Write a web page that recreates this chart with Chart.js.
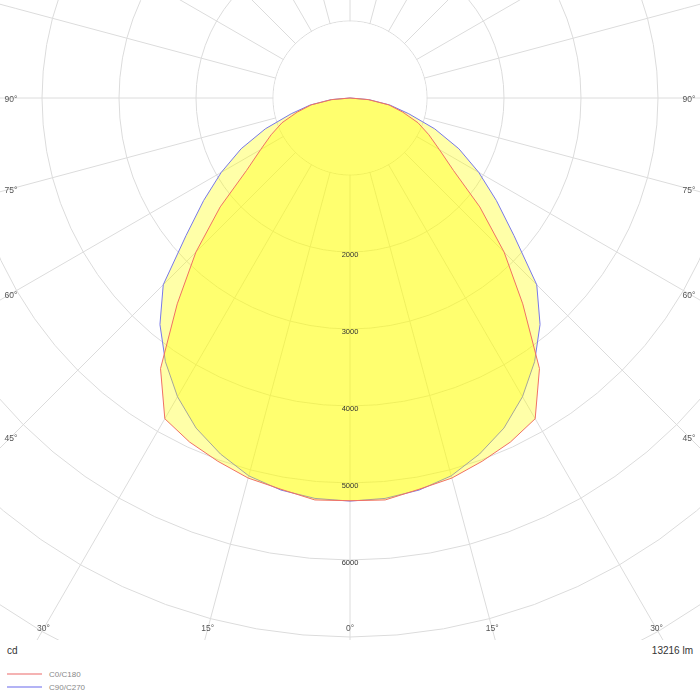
<!DOCTYPE html>
<html>
<head>
<meta charset="utf-8">
<script src="https://cdn.jsdelivr.net/npm/chart.js"></script>
<style>
  body { margin: 0; background: #fff; font-family: "Liberation Sans", Arial, sans-serif; }
  #wrap { position: absolute; left: 0; top: 0; width: 700px; height: 640px; overflow: hidden; }
  #diagram { position: absolute; left: -343px; top: -595px; }
  .txt { position: absolute; color: #333; font-size: 10px; line-height: 12px; white-space: nowrap; }
  .leg { position: absolute; left: 7px; width: 35px; height: 0; border-top: 2px solid; }
  .legtxt { position: absolute; left: 49px; color: #888; font-size: 8px; line-height: 10px; }
</style>
</head>
<body>
<div id="wrap"><canvas id="diagram" width="1386" height="1386"></canvas></div>
<div class="txt" style="left:7px; top:645px;">cd</div>
<div class="txt" style="right:7px; top:645px;">13216 lm</div>
<div class="leg" style="top:673px; border-color:#f5b3b3;"></div>
<div class="legtxt" style="top:670px;">C0/C180</div>
<div class="leg" style="top:686px; border-color:#b3b3f5;"></div>
<div class="legtxt" style="top:683px;">C90/C270</div>
<script>
// gamma angles, 0 = straight down, step 5
const gammas = [0, 5, 10, 15, 20, 25, 30, 35, 40, 45, 50, 55, 60, 65, 70, 75, 80, 85, 90,
  95, 100, 105, 110, 115, 120, 125, 130, 135, 140, 145, 150, 155, 160, 165, 170, 175, 180];

// luminous intensity, cd, per half plane
const c0 = [5230, 5240, 5160, 5110, 5020, 4930, 4810, 4290, 3490, 2830, 2200, 1640, 1340, 1130, 940, 710, 510, 240, 0,
  0, 0, 0, 0, 0, 0, 0, 0, 0, 0, 0, 0, 0, 0, 0, 0, 0, 0];
const c180 = [5230, 5240, 5160, 5110, 5020, 4930, 4810, 4290, 3490, 2830, 2200, 1640, 1340, 1130, 940, 710, 510, 240, 0,
  0, 0, 0, 0, 0, 0, 0, 0, 0, 0, 0, 0, 0, 0, 0, 0, 0, 0];
const c90 = [5235, 5220, 5170, 5080, 4920, 4730, 4480, 4180, 3840, 3430, 2780, 2320, 1930, 1560, 1170, 790, 525, 245, 0,
  0, 0, 0, 0, 0, 0, 0, 0, 0, 0, 0, 0, 0, 0, 0, 0, 0, 0];
const c270 = [5235, 5220, 5170, 5080, 4920, 4730, 4480, 4180, 3840, 3430, 2780, 2320, 1930, 1560, 1170, 790, 525, 245, 0,
  0, 0, 0, 0, 0, 0, 0, 0, 0, 0, 0, 0, 0, 0, 0, 0, 0, 0];

const tickLabels = ['2000', '3000', '4000', '5000', '6000'];
const angleTicks = [0, 15, 30, 45, 60, 75, 90];

// canvas is shifted so the pole sits at page (350, 98)
const OFF_X = 343, OFF_Y = 595;

// left half goes 0..180 clockwise from bottom, right half comes back 175..5
function around(left, right) {
  return left.concat(right.slice(1, 36).reverse());
}
const labels = around(gammas, gammas).map(g => g + '°');

const extras = {
  id: 'extras',
  beforeDatasetsDraw(chart) {
    const s = chart.scales.r, ctx = chart.ctx;
    ctx.save();
    ctx.fillStyle = '#fff';
    ctx.beginPath();
    ctx.arc(s.xCenter, s.yCenter, s.getDistanceFromCenterForValue(1000) - 0.5, 0, Math.PI * 2);
    ctx.fill();
    ctx.restore();
  },
  afterDatasetsDraw(chart) {
    const s = chart.scales.r, ctx = chart.ctx;
    ctx.save();
    ctx.textAlign = 'center';
    ctx.textBaseline = 'middle';

    ctx.fillStyle = '#333';
    ctx.font = '7.5px "Liberation Sans", Arial, sans-serif';
    tickLabels.forEach(t => {
      const d = s.getDistanceFromCenterForValue(Number(t));
      ctx.fillText(t, s.xCenter, s.yCenter + d + 3);
    });

    // angle labels where the rays leave the visible frame
    ctx.fillStyle = '#555';
    ctx.font = '8.5px "Liberation Sans", Arial, sans-serif';
    const left = 11 + OFF_X, right = 689 + OFF_X, bottom = 629 + OFF_Y;
    angleTicks.forEach(g => {
      const a = g * Math.PI / 180;
      [-1, 1].forEach(side => {
        if (g === 0 && side > 0) return;
        const dx = side * Math.sin(a), dy = Math.cos(a);
        let t = Infinity;
        if (dx < -1e-9) t = Math.min(t, (left - s.xCenter) / dx);
        if (dx > 1e-9) t = Math.min(t, (right - s.xCenter) / dx);
        if (dy > 1e-9) t = Math.min(t, (bottom - s.yCenter) / dy);
        const x = s.xCenter + t * dx;
        let y = s.yCenter + t * dy;
        if (Math.abs(dx) > 1e-9 && t === (side < 0 ? (left - s.xCenter) / dx : (right - s.xCenter) / dx)) y += 1.5;
        ctx.fillText(g + '°', x, y);
      });
    });
    ctx.restore();
  }
};

new Chart(document.getElementById('diagram'), {
  type: 'radar',
  data: {
    labels: labels,
    datasets: [
      {
        label: 'C0/C180',
        data: around(c180, c0),
        borderColor: 'rgb(240,112,100)',
        backgroundColor: 'rgba(255,255,0,0.34)',
        borderWidth: 1,
        fill: true,
        pointRadius: 0,
        tension: 0
      },
      {
        label: 'C90/C270',
        data: around(c270, c90),
        borderColor: 'rgb(120,120,232)',
        backgroundColor: 'rgba(255,255,0,0.34)',
        borderWidth: 1,
        fill: true,
        pointRadius: 0,
        tension: 0
      }
    ]
  },
  options: {
    responsive: false,
    maintainAspectRatio: false,
    animation: false,
    devicePixelRatio: 1,
    layout: { padding: 0 },
    plugins: { legend: { display: false }, tooltip: { enabled: false } },
    scales: {
      r: {
        min: 0,
        max: 9000,
        startAngle: 180,
        ticks: { display: false, stepSize: 1000 },
        pointLabels: { display: false },
        grid: { color: '#dcdcdc', lineWidth: 1 },
        angleLines: {
          color: ctx => (ctx.index % 3 === 0 ? '#dcdcdc' : 'rgba(0,0,0,0)'),
          lineWidth: 1
        }
      }
    }
  },
  plugins: [extras]
});
</script>
</body>
</html>
